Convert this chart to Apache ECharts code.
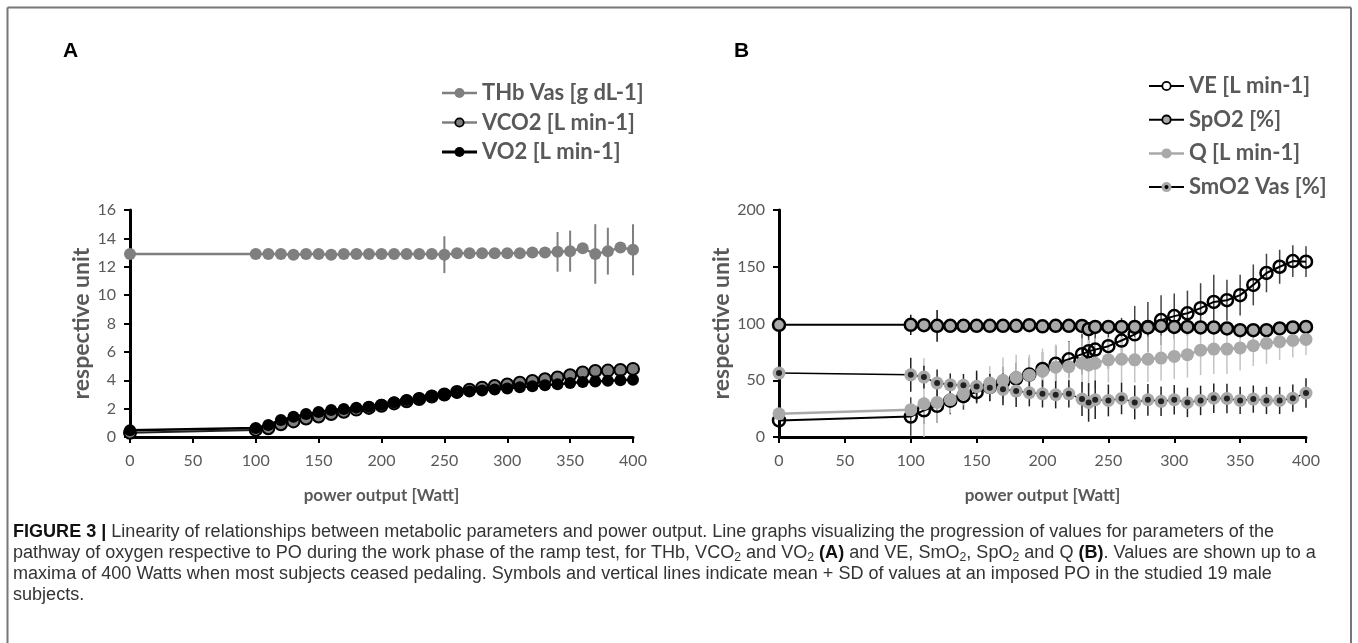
<!DOCTYPE html>
<html>
<head>
<meta charset="utf-8">
<script src="https://cdn.jsdelivr.net/npm/echarts@6/dist/echarts.min.js"></script>
<style>html,body{margin:0;padding:0;background:#fff}#c{width:1358px;height:643px}</style>
</head>
<body>
<div id="c"></div>
<script>
// ---------------- DATA ----------------
// Panel A: power output [Watt]
const xA = [0,100,110,120,130,140,150,160,170,180,190,200,210,220,230,240,250,260,270,280,290,300,310,320,330,340,350,360,370,380,390,400];
const thbVas = [12.9,12.9,12.9,12.9,12.85,12.9,12.9,12.85,12.9,12.9,12.9,12.9,12.9,12.9,12.9,12.9,12.85,12.95,12.95,12.95,12.95,12.95,12.95,13.0,13.0,13.05,13.1,13.3,12.9,13.1,13.35,13.2];
const thbVasSD = [0.2,0.2,0.2,0.2,0.2,0.2,0.2,0.2,0.2,0.2,0.2,0.2,0.2,0.2,0.2,0.2,1.3,0.2,0.2,0.2,0.2,0.2,0.2,0.2,0.2,1.4,1.45,0.3,2.1,1.65,0.3,1.8];
const vco2 = [0.3,0.5,0.62,0.9,1.1,1.3,1.45,1.62,1.78,1.93,2.05,2.2,2.37,2.52,2.68,2.85,3.0,3.18,3.33,3.47,3.6,3.7,3.82,3.95,4.07,4.2,4.35,4.55,4.65,4.68,4.72,4.8];
const vo2 = [0.47,0.64,0.85,1.2,1.42,1.62,1.76,1.9,1.98,2.07,2.13,2.27,2.45,2.6,2.73,2.9,3.02,3.12,3.2,3.28,3.35,3.42,3.5,3.58,3.65,3.72,3.8,3.88,3.92,3.96,4.0,4.03];

// Panel B
const xB = [0,100,110,120,130,140,150,160,170,180,190,200,210,220,230,235,240,250,260,270,280,290,300,310,320,330,340,350,360,370,380,390,400];
const ve = [14.6,18,23.5,27.5,32,36,39.5,44,48,51.5,55,60,64.5,68.5,73,75.5,77,80,85,90.5,97,103,106.5,109,113.5,119,120.5,125,134,144.5,150,155,154.5];
const veSD = [0,17,12,15,12,12,10,12,14,14,15,15,16,16,18,18,18,20,20,25,22,22,20,20,22,24,18,18,18,17,15,14,13.5];
const spo2 = [98.8,98.8,98.5,98,98,98,98,98,98,98,98.5,97.5,98,98,97.9,95,97,97,97,97,96.5,97.9,97,97,96.5,96.5,95.6,94.1,94.1,94.1,95.6,96.5,97];
const spo2SD = [0,9,3,14,3,3,3,3,3,3,3,3,3,3,3,3,3,3,3,3,3,3,3,3,3,3,3,3,3,3,3,3,3];
const q = [20.5,24,29.3,30.5,33,38,44.5,47.5,50,52.5,54.5,58,61.5,62,65,63.5,65,68,68.5,68,68.5,69.5,71,72.5,76.5,77.5,77.5,78.5,80.5,82.5,84,85,86];
const qSD = [0,0,40,18,12,10,12,15,20,20,18,20,20,22,22,22,22,20,20,20,20,20,20,20,22,22,22,20,18,18,16,15,14];
const smo2 = [56.3,54.8,52.8,47.5,46,45.5,44.5,43.5,42,40.5,39,38,37.2,38,33.4,30.5,32.8,32.2,34,30.5,32.8,31.4,32.8,30.5,32.2,34.2,33.9,32.2,33.4,32.2,32.2,34.2,38.7];
const smo2SD = [0,15,10,12,10,10,14,12,14,14,12,12,12,12,15,17,17,14,14,15,14,13,13,13,13,13,13,12,12,12,12,12,13];

const namesA = ['THb Vas [g dL-1]','VCO2 [L min-1]','VO2 [L min-1]'];
const namesB = ['VE [L min-1]','SpO2 [%]','Q [L min-1]','SmO2 Vas [%]'];

// ---------------- STYLE ----------------
const FONT = 'Lato, "Open Sans", sans-serif';
const TXT = '#595959';
const GRAY = '#7f7f7f';
const LGRAY = '#a9a9a9';

function pairs(xs, ys){ return xs.map((x,i)=>[x, ys[i]]); }
function errData(xs, m, sd){
  const out = [];
  xs.forEach((x,i)=>{ if (sd[i] > 0) out.push([x, Math.max(0, m[i]-sd[i]), m[i]+sd[i]]); });
  return out;
}
function errSeries(ax, xs, m, sd, color, width){
  return {
    type:'custom', xAxisIndex:ax, yAxisIndex:ax, silent:true, z:1,
    data: errData(xs, m, sd),
    encode:{x:0, y:[1,2]},
    renderItem(params, api){
      const p1 = api.coord([api.value(0), api.value(1)]);
      const p2 = api.coord([api.value(0), api.value(2)]);
      return {type:'line', shape:{x1:p1[0], y1:p1[1], x2:p2[0], y2:p2[1]}, style:{stroke:color, lineWidth:width}};
    }
  };
}
function svgIcon(lineColor, lineW, fill, stroke, sw, r, dot){
  let s = '<svg xmlns="http://www.w3.org/2000/svg" width="70" height="28" viewBox="0 0 35 14">' +
    '<line x1="0" y1="7" x2="35" y2="7" stroke="'+lineColor+'" stroke-width="'+lineW+'"/>' +
    '<circle cx="17.5" cy="7" r="'+r+'" fill="'+fill+'"' + (stroke ? ' stroke="'+stroke+'" stroke-width="'+sw+'"' : '') + '/>' +
    (dot ? '<circle cx="17.5" cy="7" r="2" fill="#000"/>' : '') + '</svg>';
  return 'image://data:image/svg+xml;charset=utf-8,' + encodeURIComponent(s);
}
function lineSeries(ax, name, xs, ys, o){
  return {
    type:'line', name, xAxisIndex:ax, yAxisIndex:ax, data:pairs(xs, ys),
    symbol:'circle', symbolSize:o.size, z:2,
    lineStyle:{color:o.line, width:o.lw},
    itemStyle:{color:o.fill, borderColor:o.border || o.fill, borderWidth:o.bw || 0, opacity:1},
    emphasis:{disabled:true}
  };
}

function axisCommon(){
  return {
    axisLine:{show:true, onZero:false, lineStyle:{color:'#000', width:3}},
    axisTick:{show:true, length:6, lineStyle:{color:'#000', width:2}},
    splitLine:{show:false}
  };
}
function xAxis(ax){
  return Object.assign(axisCommon(), {
    type:'value', gridIndex:ax, min:0, max:400, interval:50,
    name:'power output [Watt]', nameLocation:'middle', nameGap:50,
    nameTextStyle:{color:TXT, fontFamily:FONT, fontSize:17, fontWeight:'bold'},
    axisLabel:{color:TXT, fontFamily:FONT, fontSize:16, margin:16}
  });
}
function yAxis(ax, max, interval){
  return Object.assign(axisCommon(), {
    type:'value', gridIndex:ax, min:0, max:max, interval:interval,
    name:'respective unit', nameLocation:'middle', nameGap:36,
    nameTextStyle:{color:TXT, fontFamily:FONT, fontSize:23, fontWeight:'bold'},
    axisLabel:{color:TXT, fontFamily:FONT, fontSize:16, margin:14}
  });
}

// caption font fit
const CAPF = '"Liberation Sans Narrow", "Liberation Sans", Arial, sans-serif';
const cv = document.createElement('canvas').getContext('2d');
function tw(t, bold, size){ cv.font = (bold?'bold ':'') + size + 'px ' + CAPF; return cv.measureText(t).width; }
const cap1b = 'FIGURE 3 | ';
const cap1 = 'Linearity of relationships between metabolic parameters and power output. Line graphs visualizing the progression of values for parameters of the';
let capFS = 100 * 1262 / (tw(cap1b, true, 100) + tw(cap1, false, 100));
capFS = Math.max(13, Math.min(20, capFS));
const capRich = {
  b:{fontWeight:'bold', fontFamily:CAPF, fontSize:capFS, fill:'#111', lineHeight:22},
  n:{fontFamily:CAPF, fontSize:capFS, fill:'#333', lineHeight:22},
  s:{fontFamily:CAPF, fontSize:capFS*0.68, fill:'#333', lineHeight:22, verticalAlign:'bottom'}
};
const capLines = [
  '{b|FIGURE 3 |}{n| ' + cap1 + '}',
  '{n|pathway of oxygen respective to PO during the work phase of the ramp test, for THb, VCO}{s|2}{n| and VO}{s|2}{n| }{b|(A)}{n| and VE, SmO}{s|2}{n|, SpO}{s|2}{n| and Q }{b|(B)}{n|. Values are shown up to a}',
  '{n|maxima of 400 Watts when most subjects ceased pedaling. Symbols and vertical lines indicate mean + SD of values at an imposed PO in the studied 19 male}',
  '{n|subjects.}'
];
const capTop = [532, 553, 574, 595];

const graphics = [
  {type:'line', shape:{x1:7.5, y1:7.5, x2:1351, y2:7.5}, style:{stroke:'#777', lineWidth:2}},
  {type:'line', shape:{x1:7.5, y1:7.5, x2:7.5, y2:643}, style:{stroke:'#777', lineWidth:2}},
  {type:'line', shape:{x1:1351, y1:7.5, x2:1351, y2:643}, style:{stroke:'#777', lineWidth:2}},
  {type:'text', left:63, top:41, style:{text:'A', fontFamily:'"Liberation Sans", Arial, sans-serif', fontWeight:'bold', fontSize:21, fill:'#000'}},
  {type:'text', left:734, top:41, style:{text:'B', fontFamily:'"Liberation Sans", Arial, sans-serif', fontWeight:'bold', fontSize:21, fill:'#000'}}
];
capLines.forEach((t,i)=>{
  graphics.push({type:'text', left:13, top:capTop[i]-11, style:{text:t, rich:capRich, fontFamily:CAPF, fontSize:capFS, fill:'#333', lineHeight:22}});
});

const legendText = {color:TXT, fontFamily:FONT, fontSize:22, fontWeight:'bold', lineHeight:24};

const option = {
  backgroundColor:'#fff',
  animation:false,
  grid:[
    {left:130, top:210, width:503, height:227},
    {left:779, top:210, width:527, height:227}
  ],
  xAxis:[xAxis(0), xAxis(1)],
  yAxis:[yAxis(0,16,2), yAxis(1,200,50)],
  legend:[
    {orient:'vertical', left:437, top:76, itemWidth:35, itemHeight:14, itemGap:5.5, selectedMode:false,
     textStyle:legendText,
     data:[
       {name:namesA[0], icon:svgIcon(GRAY,2.5,GRAY,null,0,5,false)},
       {name:namesA[1], icon:svgIcon(GRAY,2.5,GRAY,'#000',1.8,4.2,false)},
       {name:namesA[2], icon:svgIcon('#000',3,'#000',null,0,5,false)}
     ]},
    {orient:'vertical', left:1144, top:69, itemWidth:35, itemHeight:14, itemGap:9.7, selectedMode:false,
     textStyle:legendText,
     data:[
       {name:namesB[0], icon:svgIcon('#000',2,'#fff','#000',1.8,4.2,false)},
       {name:namesB[1], icon:svgIcon('#000',2,LGRAY,'#000',1.8,4.2,false)},
       {name:namesB[2], icon:svgIcon(LGRAY,2.5,LGRAY,null,0,5,false)},
       {name:namesB[3], icon:svgIcon('#000',2,LGRAY,null,0,5,true)}
     ]}
  ],
  graphic:graphics,
  series:[
    errSeries(0, xA, thbVas, thbVasSD, GRAY, 2),
    lineSeries(0, namesA[0], xA, thbVas, {size:12, line:GRAY, lw:2.5, fill:GRAY}),
    lineSeries(0, namesA[1], xA, vco2, {size:12, line:'#222', lw:2, fill:GRAY, border:'#000', bw:2}),
    lineSeries(0, namesA[2], xA, vo2, {size:12, line:'#000', lw:2.5, fill:'#000'}),

    errSeries(1, xB, ve, veSD, '#444', 1.5),
    errSeries(1, xB, spo2, spo2SD, '#111', 1.5),
    errSeries(1, xB, q, qSD, '#c4c4c4', 1.5),
    errSeries(1, xB, smo2, smo2SD, '#222', 1.5),
    lineSeries(1, namesB[0], xB, ve, {size:12, line:'#000', lw:2, fill:'rgba(255,255,255,0)', border:'#000', bw:2.5}),
    lineSeries(1, namesB[1], xB, spo2, {size:12, line:'#000', lw:2, fill:LGRAY, border:'#000', bw:2.5}),
    lineSeries(1, namesB[2], xB, q, {size:13, line:LGRAY, lw:2.5, fill:LGRAY}),
    lineSeries(1, namesB[3], xB, smo2, {size:13, line:'#000', lw:1.5, fill:LGRAY}),
    {type:'scatter', xAxisIndex:1, yAxisIndex:1, data:pairs(xB, smo2), symbol:'circle', symbolSize:6, z:3, silent:true,
     itemStyle:{color:'#000'}, emphasis:{disabled:true}}
  ]
};
const chart = echarts.init(document.getElementById('c'), null, {renderer:'canvas'});
chart.setOption(option);
</script>
</body>
</html>
